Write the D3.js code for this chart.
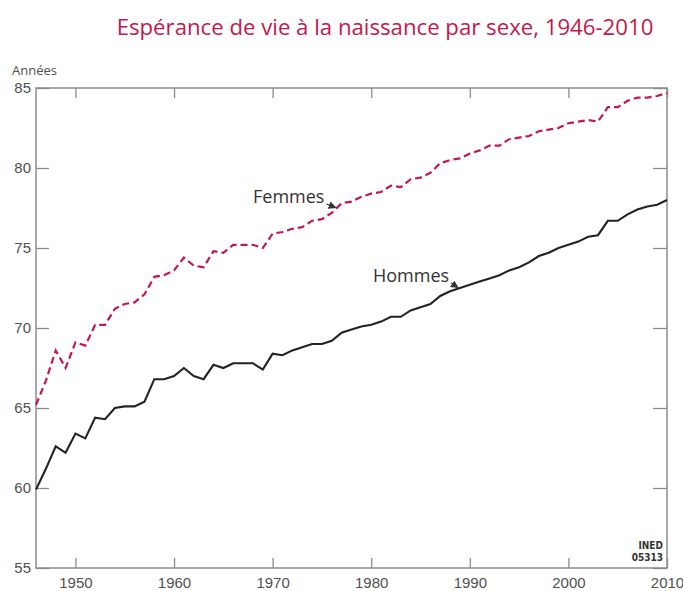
<!DOCTYPE html>
<html>
<head>
<meta charset="utf-8">
<script src="https://cdn.jsdelivr.net/npm/d3@7"></script>
<style>
  body { margin: 0; background: #fff; }
  svg { display: block; font-family: "Open Sans", "Noto Sans", sans-serif; }
</style>
</head>
<body>
<div class="container"></div>
<script>
// years and life expectancy values (France, INED)
var years = d3.range(1946, 2011);
var hommes = [59.9, 61.2, 62.6, 62.2, 63.4, 63.1, 64.4, 64.3, 65.0, 65.1,
              65.1, 65.4, 66.8, 66.8, 67.0, 67.5, 67.0, 66.8, 67.7, 67.5,
              67.8, 67.8, 67.8, 67.4, 68.4, 68.3, 68.6, 68.8, 69.0, 69.0,
              69.2, 69.7, 69.9, 70.1, 70.2, 70.4, 70.7, 70.7, 71.1, 71.3,
              71.5, 72.0, 72.3, 72.5, 72.7, 72.9, 73.1, 73.3, 73.6, 73.8,
              74.1, 74.5, 74.7, 75.0, 75.2, 75.4, 75.7, 75.8, 76.7, 76.7,
              77.1, 77.4, 77.6, 77.7, 78.0];
var femmes = [65.2, 66.7, 68.6, 67.5, 69.1, 68.9, 70.2, 70.2, 71.2, 71.5,
              71.6, 72.1, 73.2, 73.3, 73.6, 74.4, 73.9, 73.8, 74.8, 74.7,
              75.2, 75.2, 75.2, 75.0, 75.9, 76.0, 76.2, 76.3, 76.7, 76.8,
              77.2, 77.8, 77.9, 78.2, 78.4, 78.5, 78.9, 78.8, 79.3, 79.4,
              79.7, 80.3, 80.5, 80.6, 80.9, 81.1, 81.4, 81.4, 81.8, 81.9,
              82.0, 82.3, 82.4, 82.5, 82.8, 82.9, 83.0, 82.9, 83.8, 83.8,
              84.2, 84.4, 84.4, 84.5, 84.7];
var xTicks = [1950, 1960, 1970, 1980, 1990, 2000, 2010];
var yTicks = [55, 60, 65, 70, 75, 80, 85];

var width = 683, height = 591;
var margin = {top: 88, bottom: 23, left: 36, right: 16};

var svg = d3.select(".container")
            .append("svg")
            .attr("width", width)
            .attr("height", height);

// scales
var xScale = d3.scaleLinear()
               .domain([1946, 2010])
               .range([margin.left, width - margin.right]);
var yScale = d3.scaleLinear()
               .domain([55, 85])
               .range([height - margin.bottom, margin.top]);

var frameColor = "#8c8c8c";
var textColor = "#505050";

// axes with inward ticks
function styleAxis(g) {
    g.select(".domain").remove();
    g.selectAll(".tick line").attr("stroke", frameColor).attr("stroke-width", 1.3);
    g.selectAll(".tick text").attr("fill", textColor).style("font-size", "15px");
}

svg.append("g")
   .attr("transform", "translate(0," + (height - margin.bottom) + ")")
   .call(d3.axisBottom(xScale).tickValues(xTicks).tickFormat(d3.format("d"))
           .tickSizeInner(-10).tickPadding(9))
   .call(styleAxis);

svg.append("g")
   .attr("transform", "translate(0," + margin.top + ")")
   .call(d3.axisTop(xScale).tickValues(xTicks).tickSizeInner(-10).tickFormat(""))
   .call(styleAxis);

svg.append("g")
   .attr("transform", "translate(" + margin.left + ",0)")
   .call(d3.axisLeft(yScale).tickValues(yTicks).tickSizeInner(-13).tickPadding(5))
   .call(styleAxis);

svg.append("g")
   .attr("transform", "translate(" + (width - margin.right) + ",0)")
   .call(d3.axisRight(yScale).tickValues(yTicks).tickSizeInner(-14).tickFormat(""))
   .call(styleAxis);

// frame
svg.append("rect")
   .attr("x", margin.left)
   .attr("y", margin.top)
   .attr("width", width - margin.left - margin.right)
   .attr("height", height - margin.top - margin.bottom)
   .attr("fill", "none")
   .attr("stroke", frameColor)
   .attr("stroke-width", 1.5);

// lines
var line = d3.line()
             .x(function(d, i) { return xScale(years[i]); })
             .y(function(d) { return yScale(d); });

svg.append("path")
   .datum(femmes)
   .attr("d", line)
   .attr("fill", "none")
   .attr("stroke", "#c4184d")
   .attr("stroke-width", 2.2)
   .attr("stroke-dasharray", "7,4");

svg.append("path")
   .datum(hommes)
   .attr("d", line)
   .attr("fill", "none")
   .attr("stroke", "#222")
   .attr("stroke-width", 2.1);

// arrow head
svg.append("defs").append("marker")
   .attr("id", "arrow")
   .attr("viewBox", "0 0 10 10")
   .attr("refX", 9).attr("refY", 5)
   .attr("markerWidth", 6).attr("markerHeight", 6)
   .attr("orient", "auto")
   .append("path")
   .attr("d", "M0,0L10,5L0,10z")
   .attr("fill", "#333");

// series labels with small pointers
function seriesLabel(text, x, y, px, py) {
    var label = svg.append("text")
                   .attr("x", x)
                   .attr("y", y)
                   .attr("fill", "#333")
                   .style("font-size", "18px")
                   .text(text);
    var end = x + label.node().getComputedTextLength();
    svg.append("path")
       .attr("d", "M" + (end + 2) + "," + (y + 1) + "L" + px + "," + py)
       .attr("stroke", "#333")
       .attr("stroke-width", 1.3)
       .attr("marker-end", "url(#arrow)");
}

seriesLabel("Femmes", 253, 203, xScale(1976.4), yScale(77.4) - 2);
seriesLabel("Hommes", 373, 282, xScale(1988.8), yScale(72.4) - 2);

// title and unit label
svg.append("text")
   .attr("x", 385)
   .attr("y", 35)
   .attr("text-anchor", "middle")
   .attr("fill", "#c4184d")
   .style("font-size", "22.2px")
   .text("Espérance de vie à la naissance par sexe, 1946-2010");

svg.append("text")
   .attr("x", 12)
   .attr("y", 75)
   .attr("fill", textColor)
   .style("font-size", "13px")
   .text("Années");

// source code
svg.append("text")
   .attr("x", 663)
   .attr("y", 549)
   .attr("text-anchor", "end")
   .attr("fill", "#333")
   .style("font-family", "'DejaVu Sans Condensed', 'Liberation Sans Narrow', sans-serif")
   .style("font-size", "10px")
   .style("font-weight", "bold")
   .text("INED");
svg.append("text")
   .attr("x", 663)
   .attr("y", 561)
   .attr("text-anchor", "end")
   .attr("fill", "#333")
   .style("font-family", "'DejaVu Sans Condensed', 'Liberation Sans Narrow', sans-serif")
   .style("font-size", "10px")
   .style("font-weight", "bold")
   .text("05313");
</script>
</body>
</html>
